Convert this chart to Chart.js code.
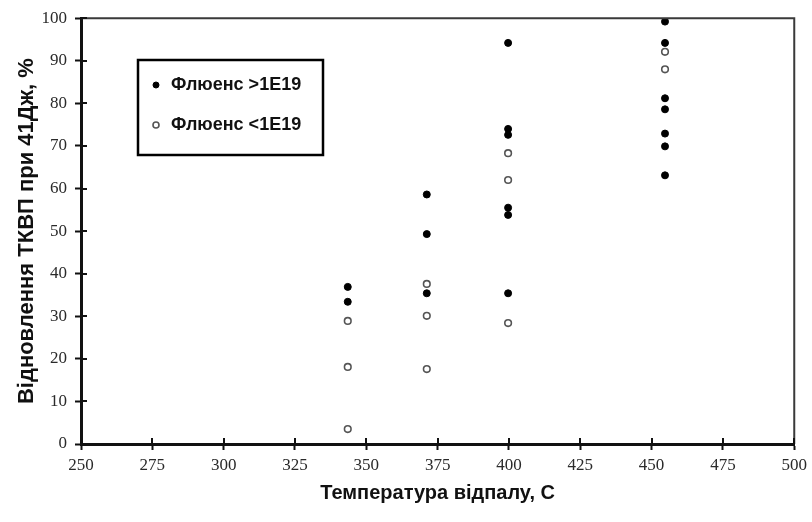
<!DOCTYPE html>
<html>
<head>
<meta charset="utf-8">
<script src="https://cdn.jsdelivr.net/npm/chart.js@4.4.1/dist/chart.umd.min.js"></script>
<style>
  html, body { margin: 0; padding: 0; background: #ffffff; }
  #wrap { width: 812px; height: 522px; }
</style>
</head>
<body>
<div id="wrap"><canvas id="chart" width="812" height="522"></canvas></div>
<script>
// Annealing temperature (°C) and recovery of the 41 J transition temperature shift (%)
const seriesLabels = ['Флюенс >1E19', 'Флюенс <1E19'];

// fluence above 1E19
const highTemps = [343.5, 343.5,
                   371.2, 371.2, 371.2,
                   399.7, 399.7, 399.7, 399.7, 399.7, 399.7,
                   454.7, 454.7, 454.7, 454.7, 454.7, 454.7, 454.7];
const highRecovery = [36.9, 33.4,
                      58.6, 49.3, 35.4,
                      94.2, 74.0, 72.6, 55.5, 53.8, 35.4,
                      99.2, 94.2, 81.2, 78.6, 72.9, 69.9, 63.1];

// fluence below 1E19
const lowTemps = [343.5, 343.5, 343.5,
                  371.2, 371.2, 371.2,
                  399.7, 399.7, 399.7,
                  454.7, 454.7];
const lowRecovery = [28.9, 18.1, 3.5,
                     37.6, 30.1, 17.6,
                     68.3, 62.0, 28.4,
                     92.1, 88.0];

const xTitle = 'Температура відпалу, С';
const yTitle = 'Відновлення ТКВП при 41Дж, %';

const toPoints = (xs, ys) => xs.map((x, i) => ({ x: x, y: ys[i] }));

// ticks that cross the axis line, plus the thin top/right frame
const frameAndTicks = {
  id: 'frameAndTicks',
  afterDraw(chart) {
    const { ctx, chartArea: a, scales: { x, y } } = chart;
    ctx.save();
    ctx.strokeStyle = '#3a3a3a';
    ctx.lineWidth = 2;
    ctx.beginPath();
    ctx.moveTo(a.left, a.top);
    ctx.lineTo(a.right, a.top);
    ctx.lineTo(a.right, a.bottom);
    ctx.stroke();

    ctx.strokeStyle = '#111';
    ctx.lineWidth = 2;
    ctx.beginPath();
    x.ticks.forEach(t => {
      const px = Math.round(x.getPixelForValue(t.value));
      ctx.moveTo(px, a.bottom);
      ctx.lineTo(px, a.bottom - 6);
    });
    y.ticks.forEach(t => {
      const py = Math.round(y.getPixelForValue(t.value));
      ctx.moveTo(a.left, py);
      ctx.lineTo(a.left + 6, py);
    });
    ctx.stroke();
    ctx.restore();
  }
};

// boxed legend inside the plot area
const boxedLegend = {
  id: 'boxedLegend',
  afterDraw(chart) {
    const { ctx } = chart;
    const bx = 138, by = 60, bw = 185, bh = 95;
    ctx.save();
    ctx.fillStyle = '#ffffff';
    ctx.fillRect(bx, by, bw, bh);
    ctx.strokeStyle = '#000';
    ctx.lineWidth = 2.5;
    ctx.strokeRect(bx, by, bw, bh);
    ctx.font = 'bold 18px "Liberation Sans", Arial, sans-serif';
    ctx.textBaseline = 'middle';
    chart.data.datasets.forEach((ds, i) => {
      const cy = by + 25 + i * 40;
      ctx.beginPath();
      ctx.arc(156, cy, 3, 0, Math.PI * 2);
      ctx.fillStyle = ds.pointBackgroundColor;
      ctx.fill();
      ctx.lineWidth = ds.pointBorderWidth;
      ctx.strokeStyle = ds.pointBorderColor;
      ctx.stroke();
      ctx.fillStyle = '#111';
      ctx.fillText(ds.label, 171, cy);
    });
    ctx.restore();
  }
};

new Chart(document.getElementById('chart'), {
  type: 'scatter',
  data: {
    datasets: [
      {
        label: seriesLabels[0],
        data: toPoints(highTemps, highRecovery),
        pointRadius: 3.5,
        pointBackgroundColor: '#000000',
        pointBorderColor: '#000000',
        pointBorderWidth: 1
      },
      {
        label: seriesLabels[1],
        data: toPoints(lowTemps, lowRecovery),
        pointRadius: 3.3,
        pointBackgroundColor: '#ffffff',
        pointBorderColor: '#555555',
        pointBorderWidth: 1.6
      }
    ]
  },
  options: {
    responsive: false,
    animation: false,
    layout: { padding: { top: 15, right: 16, left: 0, bottom: 0 } },
    plugins: {
      legend: { display: false },
      tooltip: { enabled: false }
    },
    scales: {
      x: {
        type: 'linear',
        min: 250,
        max: 500,
        afterFit(scale) { scale.height = 78; },
        ticks: {
          stepSize: 25,
          padding: 5,
          color: '#2a2a2a',
          font: { family: '"Liberation Serif", "Times New Roman", serif', size: 17 }
        },
        grid: { drawOnChartArea: false, drawTicks: true, tickLength: 6, tickColor: '#111', tickWidth: 2 },
        border: { color: '#111', width: 3 },
        title: {
          display: true,
          text: xTitle,
          color: '#111',
          padding: { top: 0, bottom: 17 },
          font: { family: '"Liberation Sans", Arial, sans-serif', size: 20, weight: 'bold' }
        }
      },
      y: {
        min: 0,
        max: 100,
        afterFit(scale) { scale.width = 81; },
        ticks: {
          stepSize: 10,
          padding: 8,
          color: '#2a2a2a',
          font: { family: '"Liberation Serif", "Times New Roman", serif', size: 17 }
        },
        grid: { drawOnChartArea: false, drawTicks: true, tickLength: 6, tickColor: '#111', tickWidth: 2 },
        border: { color: '#111', width: 3 },
        title: {
          display: true,
          text: yTitle,
          color: '#111',
          padding: { top: 14, bottom: 0 },
          font: { family: '"Liberation Sans", Arial, sans-serif', size: 22, weight: 'bold' }
        }
      }
    }
  },
  plugins: [frameAndTicks, boxedLegend]
});
</script>
</body>
</html>
